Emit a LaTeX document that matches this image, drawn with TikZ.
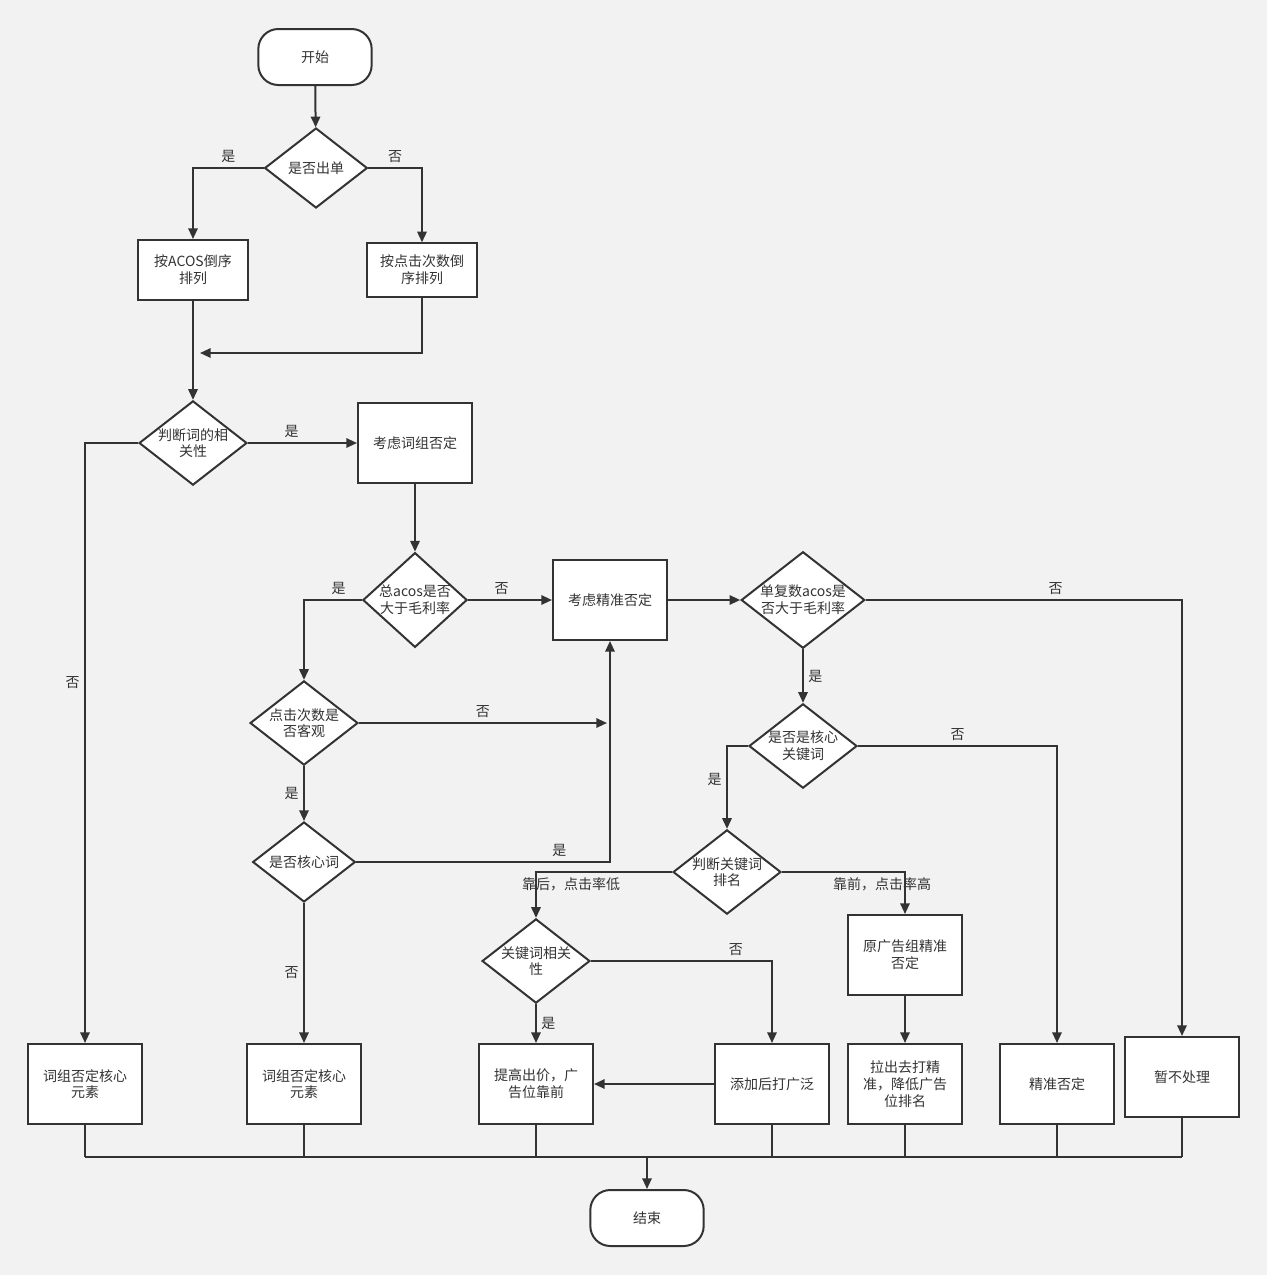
\documentclass[tikz,border=0pt]{standalone}
\usepackage{fontspec}
\newfontfamily\cjk{Noto Sans CJK SC}
\usetikzlibrary{shapes.geometric,arrows.meta}
\definecolor{ln}{HTML}{333333}
\begin{document}
\begin{tikzpicture}[x=0.75pt,y=-0.75pt,
 every node/.style={font=\cjk\fontsize{10.5}{12.5}\selectfont,text=ln,align=center},
 box/.style={draw=ln,line width=1.5pt,fill=white,minimum width=85.5pt,minimum height=60pt,inner sep=1pt},
 term/.style={draw=ln,line width=1.5pt,fill=white,rounded corners=15pt,minimum width=85pt,minimum height=42pt},
 dia/.style={draw=ln,line width=1.5pt,fill=white,diamond,aspect=1.28,minimum width=77pt,minimum height=60pt,inner sep=0pt},
 e/.style={draw=ln,line width=1.5pt,-{Triangle[length=8pt,width=7pt]}},
 l/.style={draw=ln,line width=1.5pt},
 lab/.style={font=\cjk\fontsize{10.5}{12.5}\selectfont}]
\fill[white!95!black] (0,0) rectangle (1267,1275);
\useasboundingbox (0,0) rectangle (1267,1275);
\node[term] (start) at (315,57) {开始};
\node[dia] (d1) at (316,168) {是否出单};
\node[box,minimum height=45pt,minimum width=82pt] (b1) at (193,270) {按ACOS倒序\\排列};
\node[box,minimum height=40pt,minimum width=82pt] (b2) at (422,270) {按点击次数倒\\序排列};
\node[dia] (d2) at (193,443) {判断词的相\\关性};
\node[box] (b3) at (415,443) {考虑词组否定};
\node[dia,minimum width=77pt,minimum height=69pt,aspect=1.1] (d3) at (415,600) {总acos是否\\大于毛利率};
\node[box] (b4) at (610,600) {考虑精准否定};
\node[dia,minimum width=90pt] (d4) at (803,600) {单复数acos是\\否大于毛利率};
\node[dia] (d5) at (304,723) {点击次数是\\否客观};
\node[dia] (d6) at (304,862) {是否核心词};
\node[dia] (d7) at (803,746) {是否是核心\\关键词};
\node[dia] (d8) at (727,872) {判断关键词\\排名};
\node[dia] (d9) at (536,961) {关键词相关\\性};
\node[box] (b5) at (905,955) {原广告组精准\\否定};
\node[box] (e1) at (85,1084) {词组否定核心\\元素};
\node[box] (e2) at (304,1084) {词组否定核心\\元素};
\node[box] (e3) at (536,1084) {提高出价，广\\告位靠前};
\node[box] (e4) at (772,1084) {添加后打广泛};
\node[box] (e5) at (905,1084) {拉出去打精\\准，降低广告\\位排名};
\node[box] (e6) at (1057,1084) {精准否定};
\node[box] (e7) at (1182,1077) {暂不处理};
\node[term] (end) at (647,1218) {结束};
\coordinate (m) at (200,353);
\coordinate (f) at (607,723);
\coordinate (bus) at (647,1157);
\draw[e] (start) -- (d1);
\draw[e] (d1.west) -| (b1.north) node[lab,pos=0.25,above] {是};
\draw[e] (d1.east) -| (b2.north) node[lab,pos=0.25,above] {否};
\draw[e] (b2.south) |- (m);
\draw[e] (b1.south) -- (d2.north);
\draw[e] (d2.west) -| (e1.north) node[lab,pos=0.7,left] {否};
\draw[e] (d2.east) -- (b3.west) node[lab,pos=0.4,above] {是};
\draw[e] (b3) -- (d3);
\draw[e] (d3.east) -- (b4.west) node[lab,pos=0.4,above] {否};
\draw[e] (d3.west) -| (d5.north) node[lab,pos=0.2,above] {是};
\draw[e] (d5.east) -- (f) node[lab,midway,above] {否};
\draw[e] (d5) -- (d6) node[lab,midway,left] {是};
\draw[e] (d6.east) -| (b4.south) node[lab,pos=0.4,above] {是};
\draw[e] (d6) -- (e2) node[lab,midway,left] {否};
\draw[e] (b4) -- (d4);
\draw[e] (d4.east) -| (e7.north) node[lab,pos=0.3,above] {否};
\draw[e] (d4) -- (d7) node[lab,midway,right] {是};
\draw[e] (d7.east) -| (e6.north) node[lab,pos=0.25,above] {否};
\draw[e] (d7.west) -| (d8.north) node[lab,pos=0.7,left] {是};
\draw[e] (d8.west) -| (d9.north) node[lab,pos=0.4,below,xshift=6pt] {靠后，点击率低};
\draw[e] (d8.east) -| (b5.north) node[lab,pos=0.45,below,xshift=-8pt] {靠前，点击率高};
\draw[e] (d9.east) -| (e4.north) node[lab,pos=0.4,above] {否};
\draw[e] (d9) -- (e3) node[lab,midway,right] {是};
\draw[e] (e4) -- (e3);
\draw[e] (b5) -- (e5);
\foreach \n in {e1,e2,e3,e4,e5,e6,e7} \draw[l] (\n.south) -- (\n.south |- bus);
\draw[l] (e1.south |- bus) -- (e7.south |- bus);
\draw[e] (bus) -- (end);
\end{tikzpicture}
\end{document}
